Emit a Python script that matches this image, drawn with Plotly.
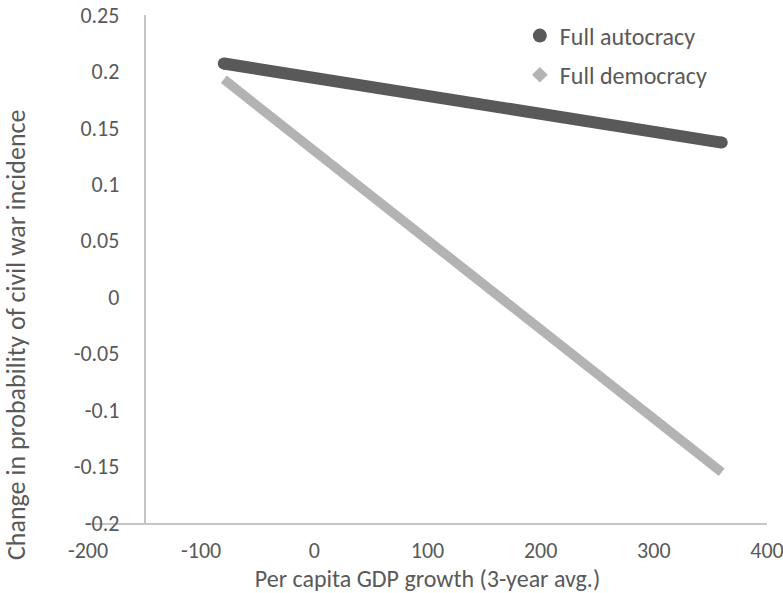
import plotly.graph_objects as go

# Marginal effect of growth on civil war incidence, by regime type
gdp_growth = [-80, 360]
full_autocracy = [0.207, 0.137]
full_democracy = [0.193, -0.155]

series_names = ["Full autocracy", "Full democracy"]

x_tick_vals = [-200, -100, 0, 100, 200, 300, 400]
x_tick_labels = ["-200", "-100", "0", "100", "200", "300", "400"]
y_tick_vals = [-0.2, -0.15, -0.1, -0.05, 0, 0.05, 0.1, 0.15, 0.2, 0.25]
y_tick_labels = ["-0.2", "-0.15", "-0.1", "-0.05", "0", "0.05", "0.1", "0.15", "0.2", "0.25"]

x_range = [-200, 400]
y_range = [-0.2, 0.25]
y_axis_crosses_at = -150

FONT = "Carlito, Calibri, Lato, sans-serif"
TEXT = "#595959"
AXIS = "#c6c6c6"
DARK = "#595959"
LIGHT = "#b3b3b3"

fig = go.Figure()

# data lines
fig.add_trace(go.Scatter(
    x=gdp_growth, y=full_autocracy, mode="lines+markers",
    line=dict(color=DARK, width=12),
    marker=dict(symbol="circle", size=12, color=DARK),
    showlegend=False, hoverinfo="skip",
))
fig.add_trace(go.Scatter(
    x=gdp_growth, y=full_democracy, mode="lines",
    line=dict(color=LIGHT, width=9.5),
    showlegend=False, hoverinfo="skip",
))

# legend entries (marker only)
fig.add_trace(go.Scatter(
    x=[None], y=[None], mode="markers", name=series_names[0],
    marker=dict(symbol="circle", size=14, color=DARK), legendgroup="a",
))
fig.add_trace(go.Scatter(
    x=[None], y=[None], mode="markers", name=series_names[1],
    marker=dict(symbol="diamond", size=12, color=LIGHT), legendgroup="d",
))

y_pos = (y_axis_crosses_at - x_range[0]) / (x_range[1] - x_range[0])

fig.update_layout(
    width=783, height=593,
    margin=dict(l=88, r=16, t=15, b=70, autoexpand=False),
    paper_bgcolor="white", plot_bgcolor="white",
    font=dict(family=FONT, size=22, color=TEXT),
    showlegend=True,
    legend=dict(
        x=0.636, y=1.003, xanchor="left", yanchor="top",
        font=dict(family=FONT, size=24, color=TEXT),
        bgcolor="rgba(0,0,0,0)", tracegroupgap=5, itemwidth=30,
    ),
    xaxis=dict(
        range=x_range, tickvals=x_tick_vals, ticktext=x_tick_labels,
        showgrid=False, zeroline=False, showline=True, linecolor=AXIS,
        linewidth=1.5, ticks="", ticklabelstandoff=7,
        ticklabeloverflow="allow", automargin=False,
        tickfont=dict(family=FONT, size=22, color=TEXT),
        title=dict(text="Per capita GDP growth (3-year avg.)",
                   font=dict(family=FONT, size=24, color=TEXT), standoff=5),
    ),
    yaxis=dict(
        range=y_range, tickvals=y_tick_vals, ticktext=y_tick_labels,
        showgrid=False, zeroline=False, showline=True, linecolor=AXIS,
        linewidth=1.5, ticks="", anchor="free", position=y_pos,
        ticklabelstandoff=20, ticklabeloverflow="allow", automargin=False,
        tickfont=dict(family=FONT, size=22, color=TEXT),
    ),
    annotations=[dict(
        text="Change in probability of civil war incidence",
        xref="paper", yref="paper", x=(16 - 88) / 679, y=0.37,
        xanchor="center", yanchor="middle", textangle=-90, showarrow=False,
        font=dict(family=FONT, size=26, color=TEXT),
    )],
)

fig.write_html("out.html")
